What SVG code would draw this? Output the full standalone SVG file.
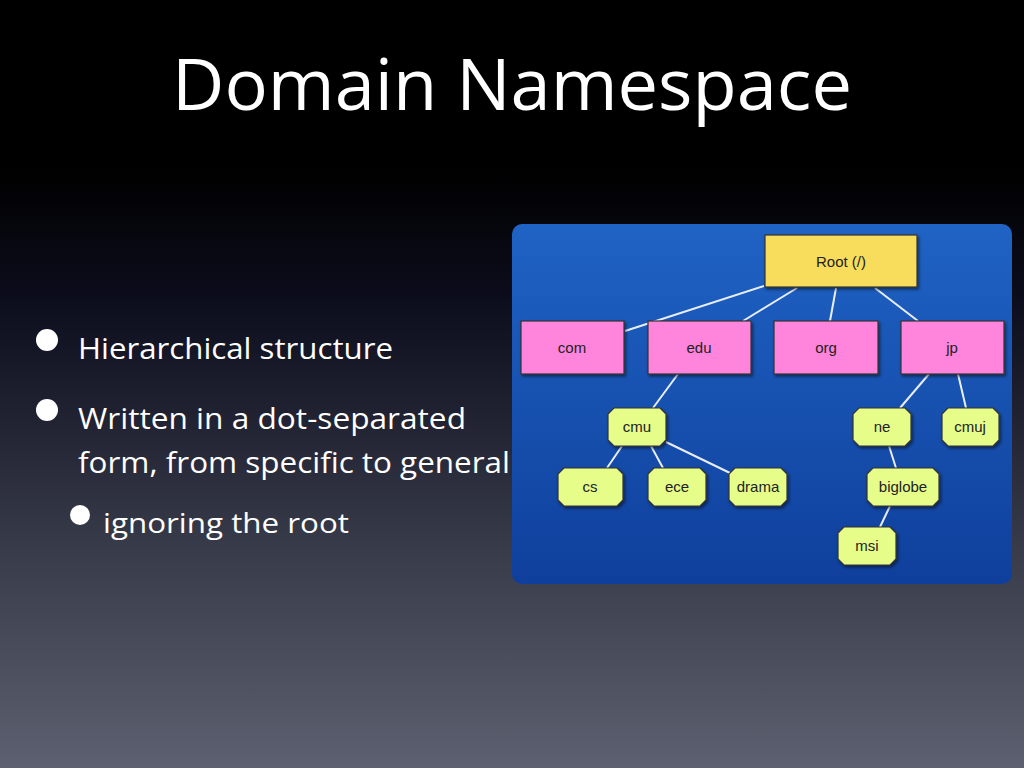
<svg xmlns="http://www.w3.org/2000/svg" width="1024" height="768" viewBox="0 0 1024 768">
<defs>
<linearGradient id="bg" x1="0" y1="0" x2="0" y2="1">
<stop offset="0" stop-color="#000"/><stop offset="0.22" stop-color="#000"/><stop offset="0.4" stop-color="#0d0e1e"/><stop offset="0.7" stop-color="#363947"/><stop offset="1" stop-color="#5d6070"/>
</linearGradient>
<linearGradient id="pn" x1="0" y1="0" x2="0" y2="1">
<stop offset="0" stop-color="#1f63c4"/><stop offset="1" stop-color="#0f3f9c"/>
</linearGradient>
<filter id="sh" x="-10%" y="-10%" width="130%" height="130%"><feDropShadow dx="1.5" dy="2" stdDeviation="1.5" flood-opacity="0.5"/></filter>
</defs>
<style>
.t{font-family:"Open Sans","Liberation Sans",sans-serif;fill:#fff}
.n{font-family:"Liberation Sans",Arial,sans-serif;font-size:15px;fill:#222;text-anchor:middle}
.rect{stroke:#333;stroke-width:1.2;filter:url(#sh)}
.pk{fill:#ff84dc}.yl{fill:#f8dc5c}.gr{fill:#e6fd8a}
.c line{stroke:#e8eef8;stroke-width:2}
</style>
<rect width="1024" height="768" fill="url(#bg)"/>
<text class="t" x="512" y="110" font-size="72" text-anchor="middle" textLength="680" lengthAdjust="spacingAndGlyphs">Domain Namespace</text>
<g class="t" font-size="30">
<circle cx="47" cy="340" r="11" fill="#fff"/>
<text x="78" y="359" textLength="315" lengthAdjust="spacingAndGlyphs">Hierarchical structure</text>
<circle cx="47" cy="410" r="11" fill="#fff"/>
<text x="78" y="429" textLength="388" lengthAdjust="spacingAndGlyphs">Written in a dot-separated</text>
<text x="78" y="473" textLength="432" lengthAdjust="spacingAndGlyphs">form, from specific to general</text>
<circle cx="80" cy="515" r="10" fill="#fff"/>
<text x="103" y="533" font-size="28" textLength="246" lengthAdjust="spacingAndGlyphs">ignoring the root</text>
</g>
<rect x="512" y="224" width="500" height="360" rx="10" fill="url(#pn)"/>
<g class="c">
<line x1="764" y1="286" x2="625" y2="331"/>
<line x1="797" y1="288" x2="743" y2="321"/>
<line x1="836" y1="288" x2="830" y2="321"/>
<line x1="875" y1="288" x2="918" y2="321"/>
<line x1="678" y1="374" x2="653" y2="408"/>
<line x1="929" y1="374" x2="900" y2="408"/>
<line x1="958" y1="374" x2="966" y2="408"/>
<line x1="622" y1="446" x2="607" y2="468"/>
<line x1="651" y1="446" x2="663" y2="468"/>
<line x1="666" y1="442" x2="730" y2="473"/>
<line x1="889" y1="446" x2="896" y2="468"/>
<line x1="890" y1="506" x2="880" y2="527"/>
</g>
<g id="root"><rect class="rect yl" x="765" y="235" width="152" height="52"/><text class="n" x="841" y="267">Root (/)</text></g>
<g id="com"><rect class="rect pk" x="521" y="321" width="103" height="53"/><text class="n" x="572" y="353">com</text></g>
<g id="edu"><rect class="rect pk" x="648" y="321" width="103" height="53"/><text class="n" x="699" y="353">edu</text></g>
<g id="org"><rect class="rect pk" x="774" y="321" width="104" height="53"/><text class="n" x="826" y="353">org</text></g>
<g id="jp"><rect class="rect pk" x="901" y="321" width="103" height="53"/><text class="n" x="952" y="353">jp</text></g>
<g id="cmu"><polygon class="rect gr" points="614,408 660,408 666,414 666,440 660,446 614,446 608,440 608,414"/><text class="n" x="637" y="432">cmu</text></g>
<g id="cs"><polygon class="rect gr" points="564,468 617,468 623,474 623,500 617,506 564,506 558,500 558,474"/><text class="n" x="590" y="492">cs</text></g>
<g id="ece"><polygon class="rect gr" points="654,468 700,468 706,474 706,500 700,506 654,506 648,500 648,474"/><text class="n" x="677" y="492">ece</text></g>
<g id="drama"><polygon class="rect gr" points="735,468 781,468 787,474 787,500 781,506 735,506 729,500 729,474"/><text class="n" x="758" y="492">drama</text></g>
<g id="ne"><polygon class="rect gr" points="859,408 905,408 911,414 911,440 905,446 859,446 853,440 853,414"/><text class="n" x="882" y="432">ne</text></g>
<g id="cmuj"><polygon class="rect gr" points="948,408 993,408 999,414 999,440 993,446 948,446 942,440 942,414"/><text class="n" x="970" y="432">cmuj</text></g>
<g id="biglobe"><polygon class="rect gr" points="873,468 933,468 939,474 939,500 933,506 873,506 867,500 867,474"/><text class="n" x="903" y="492">biglobe</text></g>
<g id="msi"><polygon class="rect gr" points="844,527 890,527 896,533 896,559 890,565 844,565 838,559 838,533"/><text class="n" x="867" y="551">msi</text></g>
</svg>
